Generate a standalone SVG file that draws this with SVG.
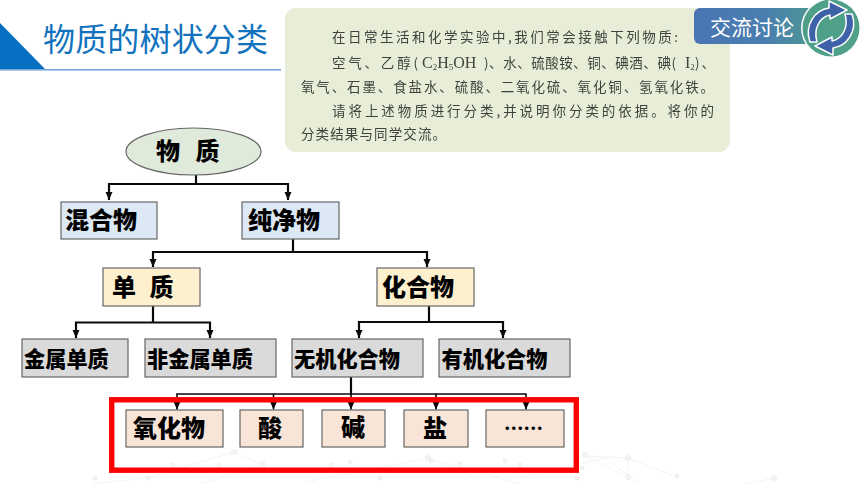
<svg xmlns="http://www.w3.org/2000/svg" width="860" height="484" viewBox="0 0 860 484">
<style>
.b{stroke:#666;stroke-width:1.2}
.blue{fill:#dce8f4}.yel{fill:#fdf0cf}.gry{fill:#dadada}.pch{fill:#f9e5d8}
.t{font-family:"Noto Sans CJK SC","Liberation Sans",sans-serif;font-weight:900;fill:#000}
.f24{font-size:24px}.f21{font-size:21.2px}
.c{fill:none;stroke:#0a0a0a;stroke-width:2.2}
.c2{fill:none;stroke:#0a0a0a;stroke-width:1.6}
.p{font-family:"Noto Sans CJK SC","Liberation Serif",serif;font-size:13.5px;fill:#3f433c}
.l{font-family:"Liberation Serif",serif;font-size:16px;fill:#3f433c}
.l .s{font-size:9px}
.n line{stroke:#f4f4f4;stroke-width:1}
.n circle{fill:#f4f4f4;stroke:#eeeeee}
</style>
<defs>
<marker id="ah" markerUnits="userSpaceOnUse" markerWidth="9" markerHeight="9" refX="8" refY="4" orient="auto"><path d="M0,0.5L8,4L0,7.5Z" fill="#0a0a0a"/></marker>
<linearGradient id="bg1" x1="0" x2="1" y1="0" y2="0"><stop offset="0" stop-color="#4a74b4"/><stop offset="0.55" stop-color="#4a7fae"/><stop offset="1" stop-color="#4fa088"/></linearGradient>
<filter id="soft" x="-5%" y="-5%" width="110%" height="110%"><feGaussianBlur stdDeviation="0.3"/></filter>
</defs>
<rect width="860" height="484" fill="#fff"/>
<g class="n">
<line x1="90" y1="484" x2="148" y2="478"/><line x1="148" y1="478" x2="234" y2="452"/><line x1="234" y1="452" x2="262" y2="465"/><line x1="262" y1="465" x2="200" y2="484"/><line x1="305" y1="482" x2="428" y2="458"/><line x1="428" y1="458" x2="520" y2="484"/><line x1="428" y1="458" x2="475" y2="478"/><line x1="520" y1="478" x2="605" y2="458"/><line x1="605" y1="458" x2="640" y2="484"/><line x1="585" y1="456" x2="628" y2="458"/><line x1="586" y1="456" x2="628" y2="477"/><line x1="628" y1="458" x2="628" y2="478"/><line x1="628" y1="458" x2="677" y2="477"/><line x1="745" y1="484" x2="774" y2="478"/>
<circle cx="234" cy="452" r="2.5"/><circle cx="173" cy="465" r="2"/><circle cx="219" cy="465" r="2"/><circle cx="263" cy="464" r="2"/><circle cx="428" cy="458" r="2.5"/><circle cx="331" cy="465" r="2"/><circle cx="350" cy="462" r="2"/><circle cx="431" cy="461" r="2"/><circle cx="460" cy="464" r="2"/><circle cx="505" cy="461" r="2"/><circle cx="520" cy="465" r="2"/><circle cx="585" cy="455" r="2.5"/><circle cx="628" cy="458" r="2.5"/><circle cx="582" cy="468" r="2"/><circle cx="628" cy="477" r="2.5"/><circle cx="677" cy="476" r="2"/><circle cx="774" cy="478" r="2.5"/><circle cx="577" cy="478" r="2"/><circle cx="95" cy="478" r="2"/><circle cx="148" cy="478" r="2"/><circle cx="380" cy="478" r="2"/>
</g>
<g id="title">
<path d="M0,23L45,69H0Z" fill="#0670c2"/>
<rect x="0" y="69" width="281" height="1.6" fill="#74a9da"/>
<text x="43" y="51" font-family="'Noto Sans CJK SC',sans-serif" font-size="32" fill="#1272bd" textLength="225">物质的树状分类</text>
</g>
<g id="panel">
<rect x="285" y="8" width="445" height="144" rx="11" fill="#e7edd7"/>
<g filter="url(#soft)">
<text class="p" x="332" y="42" textLength="346">在日常生活和化学实验中,我们常会接触下列物质:</text>
<text class="p" x="332" y="68" textLength="86">空气、乙醇(</text>
<text class="l" x="422" y="68">C<tspan class="s" dy="2">2</tspan><tspan dy="-2">H</tspan><tspan class="s" dy="2">5</tspan><tspan dy="-2">OH</tspan></text>
<text class="p" x="484" y="68" textLength="192">)、水、硫酸铵、铜、碘酒、碘(</text>
<text class="l" x="685" y="68">I<tspan class="s" dy="2">2</tspan></text>
<text class="p" x="695" y="68" textLength="20">)、</text>
<text class="p" x="301" y="92" textLength="413">氧气、石墨、食盐水、硫酸、二氧化硫、氧化铜、氢氧化铁。</text>
<text class="p" x="332" y="116" textLength="382">请将上述物质进行分类,并说明你分类的依据。将你的</text>
<text class="p" x="301" y="139" textLength="145">分类结果与同学交流。</text>
</g>
</g>
<g id="badge">
<rect x="694" y="8" width="135" height="36" rx="6" fill="url(#bg1)"/>
<text x="710" y="35" font-family="'Noto Sans CJK SC',sans-serif" font-size="21" fill="#fff">交流讨论</text>
<circle cx="831" cy="28" r="30" fill="#fff"/>
<circle cx="831" cy="28" r="28.5" fill="#4fa088"/>
<path d="M810,42C804,25 815,10 829,8L829,1L847,10L830,19L830,15C820,17 813,28 817,42Z" fill="#3d62a8" stroke="#fff" stroke-width="1.5" stroke-linejoin="round"/>
<path d="M852,14C858,31 847,46 833,48L833,55L815,46L832,37L832,41C842,39 849,28 845,14Z" fill="#3d62a8" stroke="#fff" stroke-width="1.5" stroke-linejoin="round"/>
</g>
<g id="connectors">
<path class="c" d="M196,175V184"/>
<path class="c" d="M196,184H109V200" marker-end="url(#ah)"/>
<path class="c" d="M196,184H288V200" marker-end="url(#ah)"/>
<path class="c" d="M293,239V252"/>
<path class="c" d="M293,252H153V267" marker-end="url(#ah)"/>
<path class="c" d="M293,252H427V267" marker-end="url(#ah)"/>
<path class="c" d="M153,306V322.5"/>
<path class="c" d="M153,322.5H76V338" marker-end="url(#ah)"/>
<path class="c" d="M153,322.5H210V338" marker-end="url(#ah)"/>
<path class="c" d="M429,306V322"/>
<path class="c" d="M429,322H359V338" marker-end="url(#ah)"/>
<path class="c" d="M429,322H503V338" marker-end="url(#ah)"/>
<path class="c" d="M351,377V394"/>
<path class="c2" d="M351,394H177V409.5" marker-end="url(#ah)"/>
<path class="c2" d="M273.5,394V409.5" marker-end="url(#ah)"/>
<path class="c2" d="M351,394V409.5" marker-end="url(#ah)"/>
<path class="c2" d="M351,394H436V409.5" marker-end="url(#ah)"/>
<path class="c2" d="M436,394H526V409.5" marker-end="url(#ah)"/>
</g>
<g id="n-wuzhi"><ellipse cx="193.5" cy="151.5" rx="67.5" ry="23.5" fill="#dfeadb" class="b"/><text class="t f24" x="156" y="160" word-spacing="10">物 质</text></g>
<g id="n-hunhewu"><rect class="b blue" x="61" y="202" width="96" height="37"/><text class="t f24" x="65" y="229">混合物</text></g>
<g id="n-chunjingwu"><rect class="b blue" x="242" y="202" width="97" height="37"/><text class="t f24" x="248" y="229">纯净物</text></g>
<g id="n-danzhi"><rect class="b yel" x="103" y="268" width="97" height="38"/><text class="t f24" x="112" y="296" word-spacing="8">单 质</text></g>
<g id="n-huahewu"><rect class="b yel" x="377" y="268" width="97" height="38"/><text class="t f24" x="382" y="296">化合物</text></g>
<g id="n-jinshu"><rect class="b gry" x="22" y="339" width="106" height="38"/><text class="t f21" x="24" y="367">金属单质</text></g>
<g id="n-feijinshu"><rect class="b gry" x="145" y="339" width="131" height="38"/><text class="t f21" x="147" y="367">非金属单质</text></g>
<g id="n-wuji"><rect class="b gry" x="292" y="339" width="131" height="38"/><text class="t f21" x="294" y="367">无机化合物</text></g>
<g id="n-youji"><rect class="b gry" x="439" y="339" width="131" height="38"/><text class="t f21" x="441.5" y="367">有机化合物</text></g>
<g id="n-redbox"><rect x="111.7" y="399.8" width="464.6" height="70.4" fill="none" stroke="#fe0000" stroke-width="5.4"/></g>
<g id="n-yanghuawu"><rect class="b pch" x="126" y="410" width="97" height="37"/><text class="t f24" x="133" y="437">氧化物</text></g>
<g id="n-suan"><rect class="b pch" x="240" y="410" width="63" height="37"/><text class="t f24" x="258" y="437">酸</text></g>
<g id="n-jian"><rect class="b pch" x="322" y="410" width="63" height="37"/><text class="t f24" x="341" y="436">碱</text></g>
<g id="n-yan"><rect class="b pch" x="404" y="410" width="64" height="37"/><text class="t f24" x="423" y="437">盐</text></g>
<g id="n-more"><rect class="b pch" x="486" y="410" width="78" height="37"/><text class="t" font-size="19.5" x="504" y="436">……</text></g>
</svg>
